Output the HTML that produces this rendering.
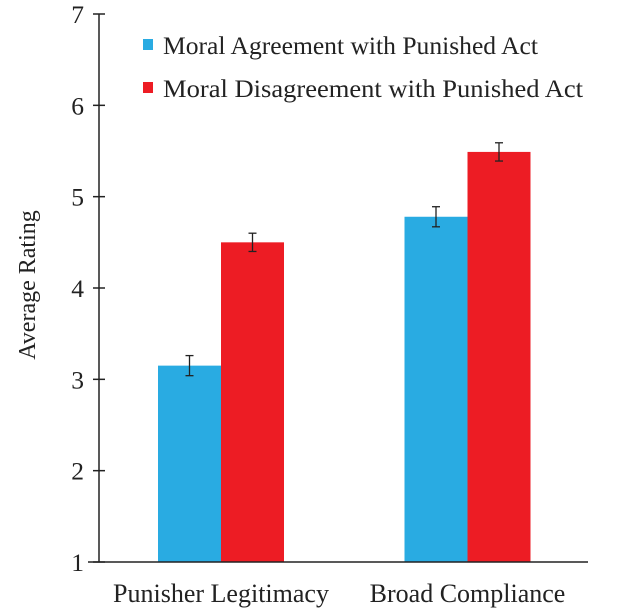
<!DOCTYPE html>
<html><head><meta charset="utf-8"><style>body{margin:0;background:#fff}svg{display:block;font-family:"Liberation Serif",serif}</style></head>
<body>
<svg id="c" width="620" height="614"></svg>
<script>
const categories=["Punisher Legitimacy","Broad Compliance"];
const agreeValues=[3.15,4.78];
const disagreeValues=[4.50,5.49];
const agreeErr=[0.11,0.11];
const disagreeErr=[0.10,0.10];
const yTicks=[1,2,3,4,5,6,7];
const svg=document.getElementById('c');
const NS='http://www.w3.org/2000/svg';
function mk(t,a,p){const e=document.createElementNS(NS,t);for(const k in a)e.setAttribute(k,a[k]);(p||svg).appendChild(e);return e;}
const y=v=>562-(v-1)*(548/6);
const groupCenter=i=>221+i*246.5;
const bw=63;
yTicks.forEach(t=>{
  const l=mk('line',{x1:93,x2:105,y1:y(t),y2:y(t),stroke:'#222','stroke-width':1.5});
  
  const tx=mk('text',{x:84,y:y(t)+9,'text-anchor':'end','font-size':25.5,fill:'#222'});
  tx.textContent=t;
  
});
const ya=mk('line',{x1:99,x2:99,y1:y(7),y2:y(1),stroke:'#222','stroke-width':1.5});

function bar(i,v,e,left,col,name){
  const x0=left?groupCenter(i)-bw:groupCenter(i);
  const r=mk('rect',{x:x0,y:y(v),width:bw,height:y(1)-y(v),fill:col});
  
  const cx=x0+bw/2;
  const g=mk('g',{stroke:'#222','stroke-width':1.3});
  
  mk('line',{x1:cx,x2:cx,y1:y(v+e),y2:y(v-e)},g);
  mk('line',{x1:cx-4,x2:cx+4,y1:y(v+e),y2:y(v+e)},g);
  mk('line',{x1:cx-4,x2:cx+4,y1:y(v-e),y2:y(v-e)},g);
}
categories.forEach((c,i)=>{
  bar(i,agreeValues[i],agreeErr[i],true,'#29abe2','bar-agreement');
  bar(i,disagreeValues[i],disagreeErr[i],false,'#ed1c24','bar-disagreement');
  const t=mk('text',{x:groupCenter(i),y:602,'text-anchor':'middle','font-size':26,fill:'#222'});
  t.textContent=c;
  
});
const xa=mk('line',{x1:88,x2:588,y1:562,y2:562,stroke:'#222','stroke-width':1.5});

const yt=mk('text',{x:0,y:0,transform:'translate(35,285) rotate(-90)','text-anchor':'middle','font-size':24,fill:'#222'});
yt.textContent='Average Rating';

[['#29abe2','Moral Agreement with Punished Act',37,375],['#ed1c24','Moral Disagreement with Punished Act',80,420]].forEach(([col,txt,top,w])=>{
  const g=mk('g',{});
  
  mk('rect',{x:143,y:top+2,width:10,height:11,fill:col},g);
  const t=mk('text',{x:163,y:top+17,'font-size':25,fill:'#222',textLength:w,lengthAdjust:'spacingAndGlyphs'},g);
  t.textContent=txt;
});
</script>
</body></html>
